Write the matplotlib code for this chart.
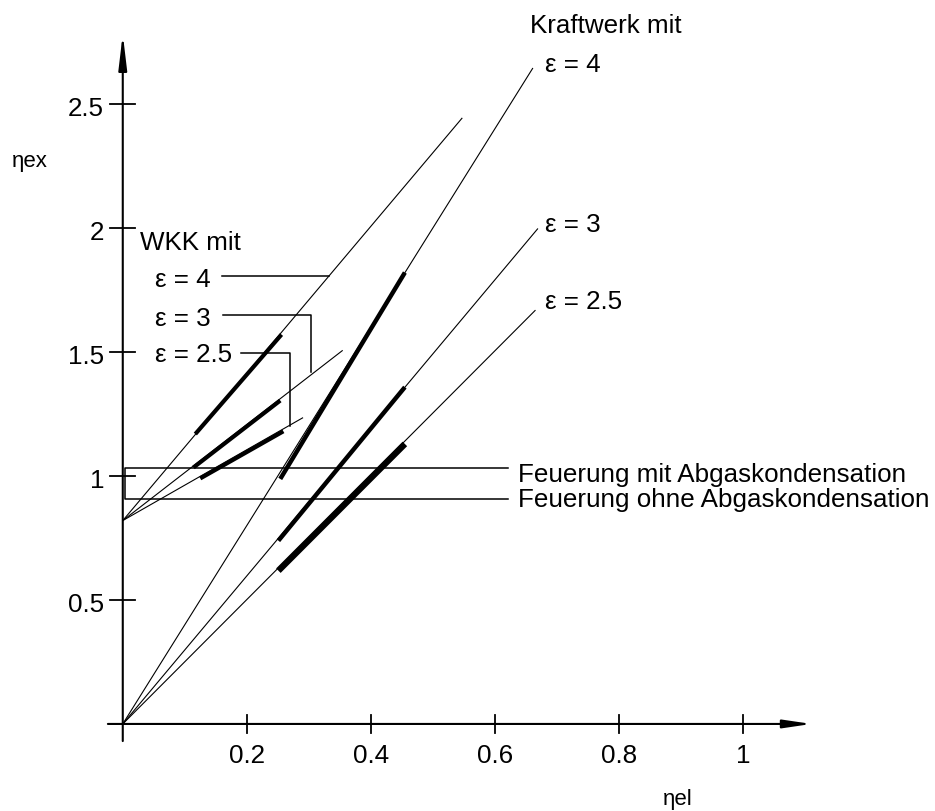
import matplotlib
matplotlib.use("Agg")
import matplotlib.pyplot as plt

plt.rcParams['font.family'] = ['Liberation Sans', 'DejaVu Sans']

# Kraftwerk mit Wärmepumpe (lines from the origin)
kw_labels = ['ε = 4', 'ε = 3', 'ε = 2.5']
kw_end_x = [0.661, 0.669, 0.665]
kw_end_y = [2.643, 1.996, 1.667]
kw_thick_x0 = [0.254, 0.251, 0.251]
kw_thick_y0 = [0.988, 0.739, 0.618]
kw_thick_x1 = [0.455, 0.455, 0.455]
kw_thick_y1 = [1.820, 1.358, 1.129]
kw_thick_lw = [3.2, 3.2, 4.6]

# WKK mit Wärmepumpe (lines from eta_ex = 0.82)
wkk_labels = ['ε = 4', 'ε = 3', 'ε = 2.5']
wkk_start_y = 0.82
wkk_end_x = [0.547, 0.354, 0.290]
wkk_end_y = [2.442, 1.505, 1.234]
wkk_thick_x0 = [0.117, 0.114, 0.125]
wkk_thick_y0 = [1.169, 1.034, 0.990]
wkk_thick_x1 = [0.256, 0.254, 0.259]
wkk_thick_y1 = [1.570, 1.304, 1.180]

# leader lines from the WKK labels to their curves
lead_y = [1.806, 1.650, 1.495]
lead_x0 = [0.160, 0.161, 0.190]
lead_x1 = [0.332, 0.304, 0.269]
lead_drop = [None, 1.418, 1.203]

# Feuerung (boiler) levels
feu_labels = ['Feuerung mit Abgaskondensation', 'Feuerung ohne Abgaskondensation']
feu_y = [1.03, 0.905]
feu_x_end = 0.621

xticks = [0.2, 0.4, 0.6, 0.8, 1.0]
xtick_labels = ['0.2', '0.4', '0.6', '0.8', '1']
yticks = [0.5, 1.0, 1.5, 2.0, 2.5]
ytick_labels = ['0.5', '1', '1.5', '2', '2.5']

fig = plt.figure(figsize=(9.35, 8.12), dpi=100)
ax = fig.add_axes([0, 0, 1, 1])
ax.set_xlim(-0.198, 1.310)
ax.set_ylim(-0.351, 2.923)
ax.axis('off')

fs = 18.7
k = 'black'

# axes with arrows
ax.annotate('', xy=(1.111, 0), xytext=(-0.024, 0),
            arrowprops=dict(arrowstyle='-|>,head_length=1.7,head_width=0.25',
                            lw=1.5, color=k, shrinkA=0, shrinkB=0, mutation_scale=10))
ax.annotate('', xy=(0, 2.782), xytext=(0, -0.069),
            arrowprops=dict(arrowstyle='-|>,head_length=2.1,head_width=0.25',
                            lw=1.5, color=k, shrinkA=0, shrinkB=0, mutation_scale=10))

for t, lab in zip(xticks, xtick_labels):
    ax.plot([t, t], [-0.036, 0.036], color=k, lw=1.3)
    ax.text(t, -0.153, lab, ha='center', va='baseline', fontsize=fs)
for t, lab in zip(yticks, ytick_labels):
    ax.plot([-0.02, 0.02], [t, t], color=k, lw=1.3)
    ax.text(-0.030, t - 0.044, lab, ha='right', va='baseline', fontsize=fs)

ax.text(-0.179, 2.25, 'ηex', ha='left', va='baseline', fontsize=16)
ax.text(0.871, -0.322, 'ηel', ha='left', va='baseline', fontsize=16)

# Kraftwerk lines
for i in range(3):
    ax.plot([0, kw_end_x[i]], [0, kw_end_y[i]], color=k, lw=0.8)
    ax.plot([kw_thick_x0[i], kw_thick_x1[i]], [kw_thick_y0[i], kw_thick_y1[i]],
            color=k, lw=kw_thick_lw[i], solid_capstyle='butt')
ax.text(0.657, 2.790, 'Kraftwerk mit', ha='left', va='baseline', fontsize=fs)
ax.text(0.681, 2.633, kw_labels[0], ha='left', va='baseline', fontsize=fs)
ax.text(0.681, 1.989, kw_labels[1], ha='left', va='baseline', fontsize=fs)
ax.text(0.681, 1.677, kw_labels[2], ha='left', va='baseline', fontsize=fs)

# WKK lines
for i in range(3):
    ax.plot([0, wkk_end_x[i]], [wkk_start_y, wkk_end_y[i]], color=k, lw=0.8)
    ax.plot([wkk_thick_x0[i], wkk_thick_x1[i]], [wkk_thick_y0[i], wkk_thick_y1[i]],
            color=k, lw=3.0, solid_capstyle='butt')
    xs = [lead_x0[i], lead_x1[i]]
    ys = [lead_y[i], lead_y[i]]
    if lead_drop[i] is not None:
        xs.append(lead_x1[i])
        ys.append(lead_drop[i])
    ax.plot(xs, ys, color=k, lw=1.1)
ax.text(0.027, 1.915, 'WKK mit', ha='left', va='baseline', fontsize=fs)
ax.text(0.052, 1.765, wkk_labels[0], ha='left', va='baseline', fontsize=fs)
ax.text(0.052, 1.610, wkk_labels[1], ha='left', va='baseline', fontsize=fs)
ax.text(0.052, 1.462, wkk_labels[2], ha='left', va='baseline', fontsize=fs)

# Feuerung box
ax.plot([feu_x_end, 0.003, 0.003, feu_x_end], [feu_y[0], feu_y[0], feu_y[1], feu_y[1]],
        color=k, lw=1.1)
ax.text(0.637, 0.979, feu_labels[0], ha='left', va='baseline', fontsize=fs)
ax.text(0.637, 0.880, feu_labels[1], ha='left', va='baseline', fontsize=fs)

fig.savefig('out.png', dpi=100)
